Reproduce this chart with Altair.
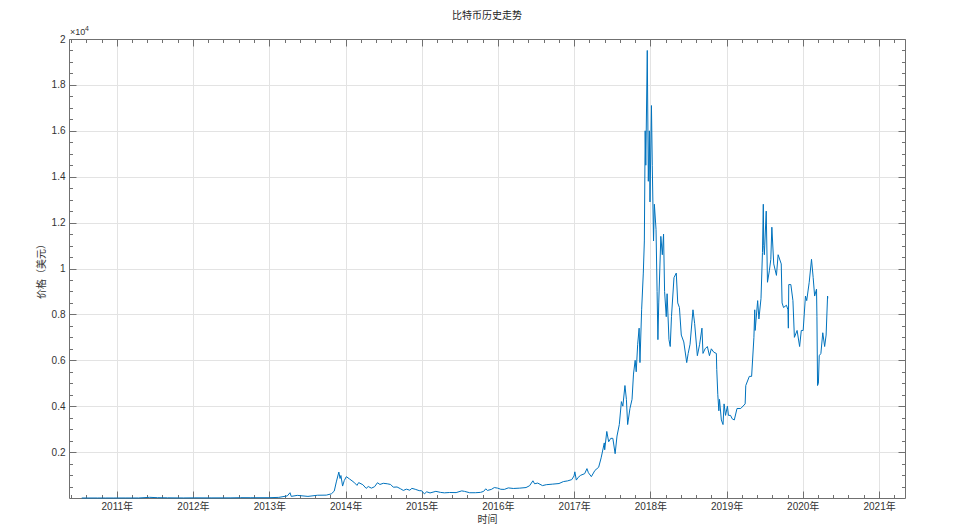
import datetime as dt
import altair as alt
import pandas as pd

# ---------------- data ----------------
dates = [
    "2010-07-17", "2010-10-01", "2010-11-07", "2010-12-15",
    "2011-02-10", "2011-04-15", "2011-06-08", "2011-07-15", "2011-09-01", "2011-11-18",
    "2012-01-10", "2012-04-01", "2012-07-01", "2012-08-17", "2012-10-01", "2012-12-31",
    "2013-02-15", "2013-03-28", "2013-04-10", "2013-04-16", "2013-05-15", "2013-07-05",
    "2013-08-20", "2013-10-01", "2013-10-25", "2013-11-08", "2013-11-18", "2013-11-30",
    "2013-12-06", "2013-12-10", "2013-12-18", "2013-12-26",
    "2014-01-05", "2014-01-20", "2014-02-10", "2014-02-25", "2014-03-05", "2014-03-25",
    "2014-04-10", "2014-04-20", "2014-05-05", "2014-05-20", "2014-06-03", "2014-06-15",
    "2014-07-01", "2014-07-20", "2014-08-05", "2014-08-18", "2014-09-05", "2014-09-22",
    "2014-10-05", "2014-10-20", "2014-11-05", "2014-11-15", "2014-12-01", "2014-12-20",
    "2015-01-01", "2015-01-14", "2015-01-25", "2015-02-10", "2015-03-10", "2015-04-01",
    "2015-04-20", "2015-05-15", "2015-06-15", "2015-07-12", "2015-07-25", "2015-08-19",
    "2015-09-15", "2015-10-10", "2015-10-25", "2015-11-04", "2015-11-12", "2015-12-01",
    "2015-12-15", "2015-12-31",
    "2016-01-15", "2016-02-01", "2016-02-20", "2016-03-15", "2016-04-15", "2016-05-15",
    "2016-06-01", "2016-06-17", "2016-06-25", "2016-07-10", "2016-08-02", "2016-08-20",
    "2016-09-20", "2016-10-20", "2016-11-10", "2016-11-30", "2016-12-20", "2016-12-31",
    "2017-01-04", "2017-01-11", "2017-01-20", "2017-02-01", "2017-02-20", "2017-03-03",
    "2017-03-10", "2017-03-24", "2017-04-10", "2017-04-28", "2017-05-10", "2017-05-25",
    "2017-05-27", "2017-06-06", "2017-06-15", "2017-06-25", "2017-07-05", "2017-07-16",
    "2017-07-25", "2017-08-05", "2017-08-15", "2017-08-22", "2017-09-01", "2017-09-08",
    "2017-09-14", "2017-09-25", "2017-10-05", "2017-10-12", "2017-10-20", "2017-10-25",
    "2017-11-01", "2017-11-08", "2017-11-12", "2017-11-20", "2017-11-28", "2017-12-03",
    "2017-12-07", "2017-12-10", "2017-12-17", "2017-12-22", "2017-12-27", "2017-12-30",
    "2018-01-06", "2018-01-10", "2018-01-16", "2018-01-20", "2018-01-28", "2018-02-02",
    "2018-02-06", "2018-02-10", "2018-02-20", "2018-02-27", "2018-03-05", "2018-03-10",
    "2018-03-18", "2018-03-22", "2018-03-31", "2018-04-06", "2018-04-12", "2018-04-24",
    "2018-05-05", "2018-05-12", "2018-05-20", "2018-05-29", "2018-06-10", "2018-06-24",
    "2018-07-01", "2018-07-10", "2018-07-24", "2018-08-01", "2018-08-14", "2018-08-25",
    "2018-09-05", "2018-09-10", "2018-09-20", "2018-10-01", "2018-10-11", "2018-10-20",
    "2018-11-01", "2018-11-13", "2018-11-15", "2018-11-20", "2018-11-25", "2018-11-28",
    "2018-12-07", "2018-12-15", "2018-12-20", "2018-12-27",
    "2019-01-05", "2019-01-10", "2019-01-20", "2019-01-28", "2019-02-07", "2019-02-20",
    "2019-03-10", "2019-03-31", "2019-04-03", "2019-04-20", "2019-05-01", "2019-05-12",
    "2019-05-16", "2019-05-18", "2019-05-30", "2019-06-05", "2019-06-15", "2019-06-22",
    "2019-06-26", "2019-06-28", "2019-07-01", "2019-07-10", "2019-07-16", "2019-07-25",
    "2019-08-01", "2019-08-06", "2019-08-15", "2019-08-28", "2019-09-05", "2019-09-20",
    "2019-09-24", "2019-10-01", "2019-10-15", "2019-10-22", "2019-10-24", "2019-10-26",
    "2019-11-05", "2019-11-15", "2019-11-22", "2019-12-05", "2019-12-17", "2019-12-25",
    "2020-01-03", "2020-01-14", "2020-01-20", "2020-02-01", "2020-02-12", "2020-02-20",
    "2020-02-27", "2020-03-07", "2020-03-09", "2020-03-12", "2020-03-16", "2020-03-20",
    "2020-03-28", "2020-04-06", "2020-04-15", "2020-04-22", "2020-04-29", "2020-04-30",
]
prices = [
    0.05, 0.06, 0.4, 0.25,
    1.0, 1.0, 29, 14, 8, 2.2,
    7, 5, 6.7, 14, 12.5, 13.5,
    27, 90, 230, 70, 115, 70,
    120, 125, 180, 300, 700, 1130,
    850, 980, 520, 760,
    930, 830, 690, 550, 670, 580,
    420, 500, 430, 490, 665, 590,
    640, 620, 590, 470, 480, 400,
    330, 385, 340, 420, 380, 320,
    315, 180, 270, 220, 290, 245,
    225, 240, 235, 310, 290, 230,
    230, 245, 290, 400, 330, 375,
    455, 430,
    380, 375, 440, 415, 430, 455,
    535, 750, 620, 650, 540, 580,
    605, 630, 715, 745, 800, 960,
    1140, 780, 900, 990, 1060, 1280,
    1100, 930, 1200, 1340, 1750, 2400,
    2100, 2900, 2450, 2600, 2600, 1930,
    2700, 3200, 4200, 4000, 4900, 4300,
    3200, 3900, 4300, 5400, 6000, 5500,
    6700, 7400, 5900, 8200, 9800, 11200,
    16000, 14500, 19500, 13800, 16000, 12900,
    17100, 14500, 11200, 12800, 11700, 9000,
    6900, 8500, 11400, 10600, 11500, 9000,
    7900, 8900, 6900, 6600, 7900, 9600,
    9800, 8500, 8300, 7100, 6800, 5900,
    6300, 6700, 8200, 7600, 6200, 6700,
    7400, 6300, 6500, 6600, 6200, 6500,
    6350, 6300, 5600, 4500, 3800, 4300,
    3400, 3200, 4100, 3600,
    4000, 3600, 3600, 3450, 3400, 3900,
    3900, 4100, 4900, 5300, 5300, 7000,
    8200, 7300, 8600, 7800, 8700, 10700,
    12800, 11000, 10600, 12500, 9400, 9900,
    10400, 11800, 10200, 9700, 10600, 10200,
    8500, 8300, 8400, 8200, 7400, 9300,
    9300, 8600, 7000, 7300, 6600, 7300,
    7300, 8800, 8600, 9400, 10400, 9600,
    8800, 9100, 7900, 4900, 5000, 6200,
    6300, 7200, 6600, 7100, 8800, 8700,
]

major_years = list(range(2011, 2022))
y_major = [2000, 4000, 6000, 8000, 10000, 12000, 14000, 16000, 18000, 20000]
y_minor = list(range(500, 20000, 500))

df = pd.DataFrame({"date": dates, "price": prices})

# ---------------- layout ----------------
W, H = 836, 459
AX = "#707070"
FONT = "Liberation Sans, Noto Sans CJK SC"


def dt_obj(d):
    return alt.DateTime(year=d.year, month=d.month, date=d.day)


x_major_vals = [dt_obj(dt.date(y, 1, 1)) for y in major_years]
x_minor_vals = []
for y in range(2010, 2022):
    for k in range(1, 5):
        d = dt.date(y, 1, 1) + dt.timedelta(days=round(k * 73))
        x_minor_vals.append(dt_obj(d))

x_scale = alt.Scale(
    domain=[alt.DateTime(year=2010, month=5, date=17), alt.DateTime(year=2021, month=5, date=5)],
    nice=False,
)
y_scale = alt.Scale(domain=[0, 20000], nice=False, zero=False)

base = alt.Chart(df)

main = base.mark_line(color="#0072BD", strokeWidth=1).encode(
    x=alt.X(
        "date:T",
        scale=x_scale,
        axis=alt.Axis(
            orient="bottom", values=x_major_vals, format="%Y年", formatType="time",
            ticks=False, grid=True, gridColor="#e3e3e3", domain=True, domainColor=AX,
            labelPadding=3, labelFontSize=10, labelColor="#333333", labelFont=FONT,
            title="时间", titleFontSize=10, titleFont="Noto Sans CJK SC",
            titleFontWeight="normal", titleColor="#333333", titlePadding=3,
        ),
    ),
    y=alt.Y(
        "price:Q",
        scale=y_scale,
        axis=alt.Axis(
            orient="left", values=y_major, labelExpr="datum.value / 10000",
            ticks=False, grid=True, gridColor="#e3e3e3", domain=True, domainColor=AX,
            labelPadding=4, labelFontSize=10, labelColor="#333333", labelFont=FONT,
            title="价格（美元）", titleFontSize=10, titleFont="Noto Sans CJK SC",
            titleFontWeight="normal", titleColor="#333333", titlePadding=5,
        ),
    ),
)


def tick_layer(xvals, yvals, size, x_orient, y_orient, domain):
    return base.mark_line(strokeOpacity=0).encode(
        x=alt.X(
            "date:T", scale=x_scale,
            axis=alt.Axis(
                orient=x_orient, offset=-H, values=xvals, labels=False, grid=False,
                ticks=True, tickSize=size, tickColor=AX, domain=domain, domainColor=AX,
                title=None,
            ),
        ),
        y=alt.Y(
            "price:Q", scale=y_scale,
            axis=alt.Axis(
                orient=y_orient, offset=-W, values=yvals, labels=False, grid=False,
                ticks=True, tickSize=size, tickColor=AX, domain=domain, domainColor=AX,
                title=None,
            ),
        ),
    )


# inward ticks on bottom/left, top/right (major and minor)
t1 = tick_layer(x_major_vals, y_major, 7, "top", "right", False)
t2 = tick_layer(x_major_vals, y_major, 7, "bottom", "left", True)
t3 = tick_layer(x_minor_vals, y_minor, 3.5, "top", "right", False)
t4 = tick_layer(x_minor_vals, y_minor, 3.5, "bottom", "left", False)

exp_base = alt.Chart(pd.DataFrame({"t": ["×10"], "e": ["4"]}))
exp1 = exp_base.mark_text(align="left", baseline="bottom", fontSize=9, color="#333333",
                          font="Liberation Sans").encode(
    text="t:N", x=alt.value(1), y=alt.value(-2))
exp2 = exp_base.mark_text(align="left", baseline="bottom", fontSize=7, color="#333333",
                          font="Liberation Sans").encode(
    text="e:N", x=alt.value(16), y=alt.value(-7))

chart = (
    alt.layer(main, t1, t2, t3, t4, exp1, exp2)
    .resolve_axis(x="independent", y="independent")
    .properties(
        width=W,
        height=H,
        title=alt.Title("比特币历史走势", fontSize=10, font="Noto Sans CJK SC",
                        fontWeight="normal", color="#262626", offset=4),
        autosize=alt.AutoSizeParams(type="none"),
        padding={"left": 61, "top": 31, "right": 25, "bottom": 30},
        background="white",
    )
    .configure_view(strokeWidth=0)
)

chart.save("out.html", embed_options={"renderer": "svg", "actions": False})
